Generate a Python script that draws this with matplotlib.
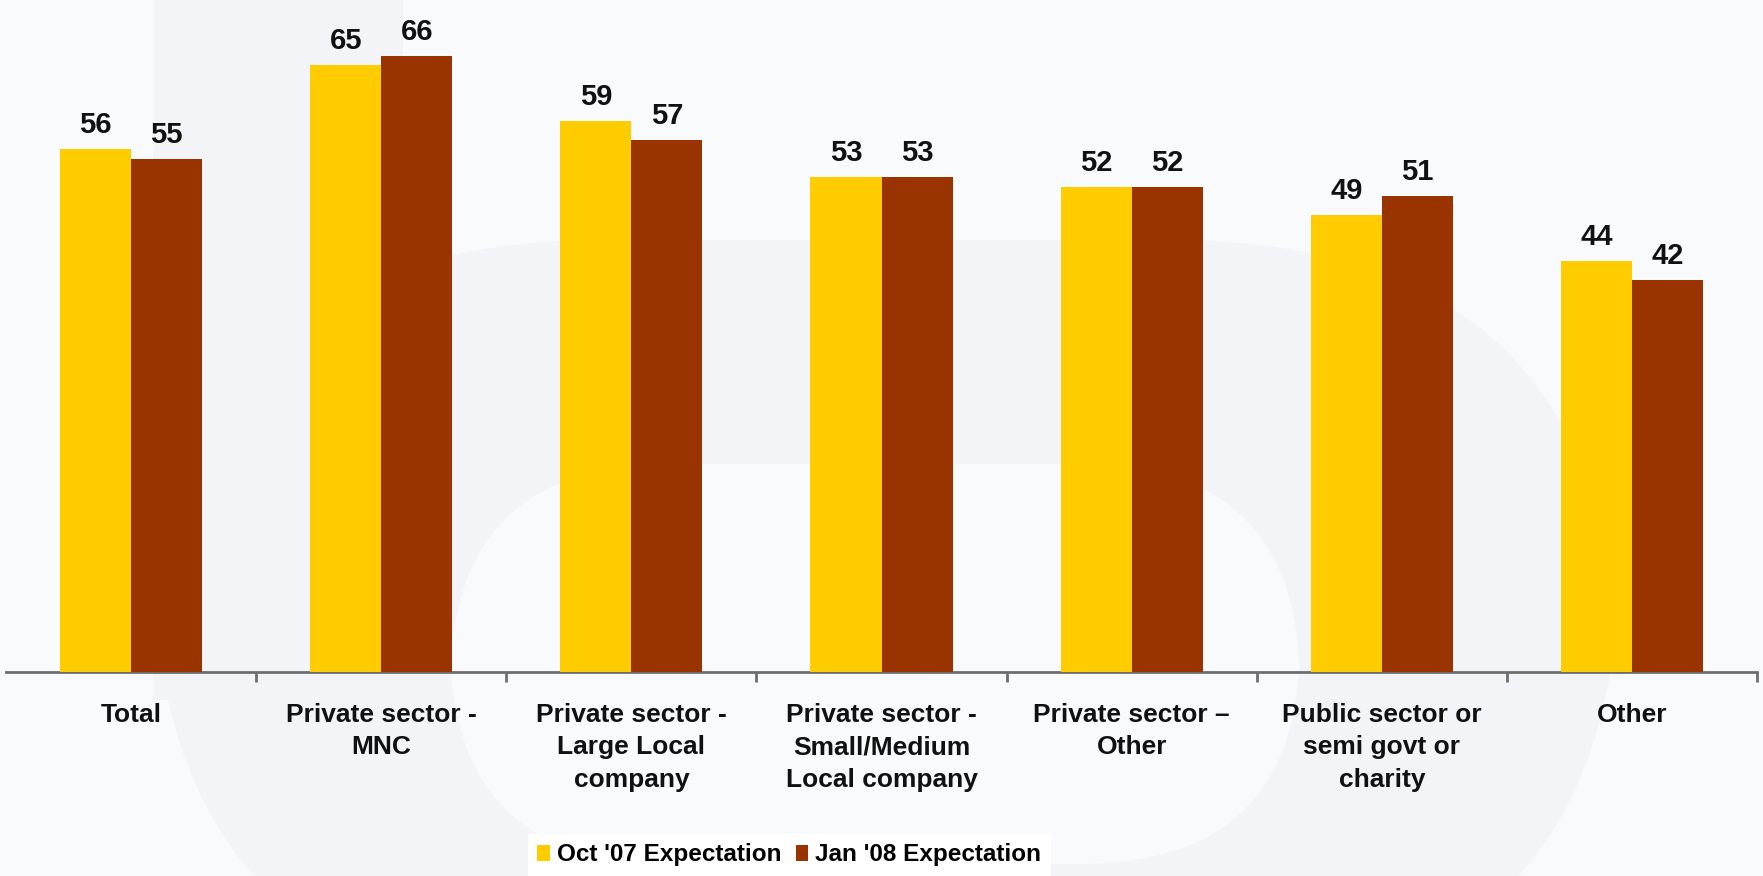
import matplotlib.pyplot as plt
from matplotlib.patches import Rectangle, FancyBboxPatch

plt.rcParams['font.family'] = ['Liberation Sans', 'DejaVu Sans']
plt.rcParams['font.weight'] = 'bold'

categories = ['Total', 'Private sector -\nMNC', 'Private sector -\nLarge Local\ncompany',
              'Private sector -\nSmall/Medium\nLocal company', 'Private sector \u2013\nOther',
              'Public sector or\nsemi govt or\ncharity', 'Other']
oct07 = [56, 65, 59, 53, 52, 49, 44]
jan08 = [55, 66, 57, 53, 52, 51, 42]
series_names = ["Oct '07 Expectation", "Jan '08 Expectation"]

yellow = '#FFCC00'
brown = '#993300'
bg_light = '#F9FAFC'
bg_dark = '#F2F4F8'

fig = plt.figure(figsize=(17.63, 8.76), dpi=100, facecolor=bg_light)

# faint watermark shape behind the chart (pixel coordinates)
wm = fig.add_axes([0, 0, 1, 1], zorder=0)
wm.set_xlim(0, 1763)
wm.set_ylim(876, 0)
wm.axis('off')
wm.add_patch(Rectangle((153, 0), 250, 700, color=bg_dark, lw=0))
wm.add_patch(FancyBboxPatch((153, 240), 1467, 760,
                            boxstyle='round,pad=0,rounding_size=450',
                            color=bg_dark, lw=0))
wm.add_patch(FancyBboxPatch((450, 464), 850, 400,
                            boxstyle='round,pad=0,rounding_size=220',
                            color=bg_light, lw=0))

ax = fig.add_axes([6 / 1763, 204 / 876, 1751 / 1763, 672 / 876], zorder=1)
ax.set_facecolor('none')

x = list(range(len(categories)))
w = 0.284
b1 = ax.bar([i - w / 2 for i in x], oct07, width=w, color=yellow, label=series_names[0], zorder=3)
b2 = ax.bar([i + w / 2 for i in x], jan08, width=w, color=brown, label=series_names[1], zorder=3)

for bars, vals in ((b1, oct07), (b2, jan08)):
    for bar, v in zip(bars, vals):
        ax.annotate(str(v), (bar.get_x() + bar.get_width() / 2, v),
                    xytext=(0, 11.5), textcoords='offset points',
                    ha='center', va='baseline', fontsize=21,
                    fontweight='bold', color='#111111')

ax.set_xlim(-0.5, 6.5)
ax.set_ylim(0, 72)
ax.set_yticks([])
for s in ('top', 'right', 'left'):
    ax.spines[s].set_visible(False)
ax.spines['bottom'].set_color('#6E6E6E')
ax.spines['bottom'].set_linewidth(2)
ax.spines['bottom'].set_zorder(2)

ax.set_xticks(x)
ax.set_xticklabels(categories, fontsize=19, fontweight='bold', color='#111111',
                   linespacing=1.45)
ax.tick_params(axis='x', which='major', length=0, pad=22)
ax.set_xticks([i + 0.5 for i in x], minor=True)
ax.tick_params(axis='x', which='minor', length=7, width=2, color='#6E6E6E', direction='out')

leg = fig.legend(handles=[b1, b2], labels=series_names, loc='center',
                 bbox_to_anchor=(0.4478, 0.024), ncol=2, frameon=True,
                 fancybox=False, framealpha=1, edgecolor='white',
                 prop={'size': 17.5, 'weight': 'bold'},
                 handlelength=0.5, handleheight=0.65, handletextpad=0.3,
                 columnspacing=0.6, borderpad=0.4)
leg.get_frame().set_facecolor('white')
leg.get_frame().set_linewidth(0)

fig.savefig('out.png', dpi=100, facecolor=bg_light)
